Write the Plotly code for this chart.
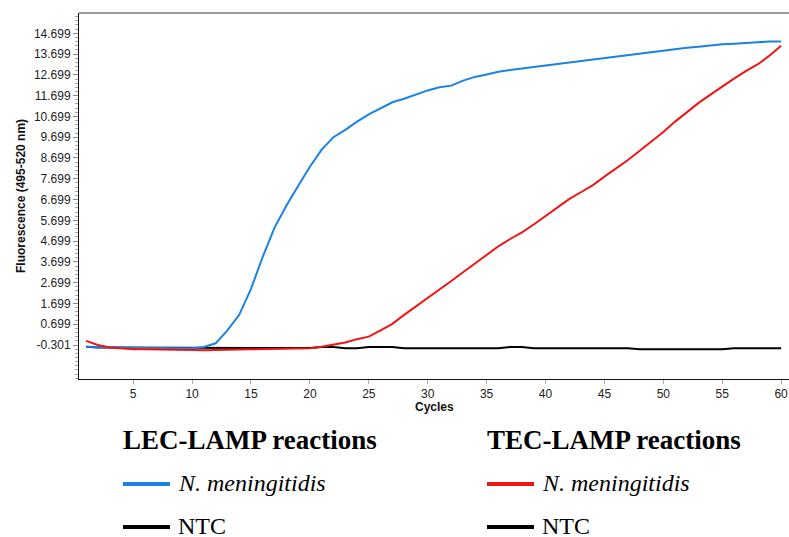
import plotly.graph_objects as go

cycles = list(range(1, 61))

lec_nm = [-0.38, -0.40, -0.42, -0.43, -0.44, -0.45, -0.45, -0.46, -0.46, -0.46,
          -0.40, -0.22, 0.40, 1.15, 2.40, 3.95, 5.35, 6.40, 7.35, 8.28,
          9.10, 9.70, 10.05, 10.45, 10.80, 11.10, 11.38, 11.55, 11.75, 11.95,
          12.10, 12.18, 12.42, 12.60, 12.72, 12.85, 12.93, 13.02, 13.08, 13.15,
          13.22, 13.32, 13.38, 13.45, 13.52, 13.60, 13.65, 13.72, 13.80, 13.88,
          13.92, 14.00, 14.05, 14.12, 14.17, 14.20, 14.22, 14.27, 14.30, 14.30]

tec_nm = [-0.10, -0.30, -0.42, -0.47, -0.50, -0.51, -0.51, -0.52, -0.52, -0.54,
          -0.55, -0.55, -0.54, -0.52, -0.51, -0.50, -0.49, -0.48, -0.47, -0.46,
          -0.38, -0.28, -0.18, -0.02, 0.10, 0.40, 0.72, 1.15, 1.55, 1.95,
          2.35, 2.78, 3.20, 3.63, 4.06, 4.45, 4.80, 5.12, 5.50, 5.92,
          6.30, 6.72, 7.05, 7.38, 7.80, 8.20, 8.60, 9.05, 9.50, 9.95,
          10.45, 10.90, 11.35, 11.75, 12.15, 12.52, 12.88, 13.20, 13.62, 14.10]

ntc = [-0.38, -0.42, -0.42, -0.42, -0.42, -0.42, -0.45, -0.45, -0.45, -0.45,
       -0.45, -0.45, -0.45, -0.45, -0.45, -0.45, -0.45, -0.45, -0.45, -0.45,
       -0.40, -0.40, -0.46, -0.46, -0.40, -0.40, -0.40, -0.46, -0.46, -0.46,
       -0.46, -0.46, -0.46, -0.46, -0.46, -0.46, -0.40, -0.40, -0.46, -0.46,
       -0.46, -0.46, -0.46, -0.46, -0.46, -0.46, -0.46, -0.51, -0.51, -0.51,
       -0.51, -0.51, -0.51, -0.51, -0.51, -0.46, -0.46, -0.46, -0.46, -0.46]

y_tick_labels = ["-0.301", "0.699", "1.699", "2.699", "3.699", "4.699", "5.699",
                 "6.699", "7.699", "8.699", "9.699", "10.699", "11.699",
                 "12.699", "13.699", "14.699"]
y_tick_vals = [float(s) for s in y_tick_labels]
x_tick_vals = [5, 10, 15, 20, 25, 30, 35, 40, 45, 50, 55, 60]

BLUE = "#1a82e2"
RED = "#f01515"
BLACK = "#000000"

W, H = 789, 537
L, R, T, B = 79, 0, 13, 158
PW, PH = W - L - R, H - T - B


def px(x):
    return (x - L) / PW


def py(y):
    return (H - B - y) / PH


fig = go.Figure()
fig.add_trace(go.Scatter(x=cycles, y=ntc, mode="lines",
                         line=dict(color=BLACK, width=2), showlegend=False))
fig.add_trace(go.Scatter(x=cycles, y=lec_nm, mode="lines",
                         line=dict(color=BLUE, width=2), showlegend=False))
fig.add_trace(go.Scatter(x=cycles, y=tec_nm, mode="lines",
                         line=dict(color=RED, width=2), showlegend=False))

fig.update_layout(
    width=W, height=H,
    margin=dict(l=L, r=R, t=T, b=B, pad=0),
    paper_bgcolor="white", plot_bgcolor="white",
    font=dict(family="Liberation Sans, Arial, sans-serif", size=12, color="#222"),
    xaxis=dict(range=[0.4, 60.67], tickmode="array", tickvals=x_tick_vals,
               ticks="outside", ticklen=4, tickcolor="#aaa", showgrid=False,
               zeroline=False, showline=True, linecolor="#111", linewidth=1,
               tickfont=dict(size=12, color="#222")),
    yaxis=dict(range=[-1.937, 15.676], tickmode="array", tickvals=y_tick_vals,
               ticktext=y_tick_labels, ticks="outside", ticklen=5,
               tickcolor="#888", showgrid=False, zeroline=False, showline=True,
               linecolor="#111", linewidth=1,
               tickfont=dict(size=12, color="#222"),
               minor=dict(tickmode="linear", tick0=-0.301, dtick=0.2,
                          ticks="outside", ticklen=3, tickcolor="#aaa",
                          showgrid=False)),
)

# top border
fig.add_shape(type="line", xref="paper", yref="paper", x0=0, x1=1, y0=1, y1=1,
              line=dict(color="#777", width=1.5))

ann = []
ann.append(dict(text="<b>Fluorescence (495-520 nm)</b>", textangle=-90,
                x=px(21), y=0.5, xref="paper", yref="paper",
                xanchor="center", yanchor="middle", showarrow=False,
                font=dict(size=12, color="#111", family="Liberation Sans, Arial")))
ann.append(dict(text="<b>Cycles</b>", x=px(434), y=py(407), xref="paper",
                yref="paper", xanchor="center", yanchor="middle",
                showarrow=False,
                font=dict(size=12, color="#111", family="Liberation Sans, Arial")))

serif = "Liberation Serif, Times New Roman, serif"
groups = [
    (123, "LEC-LAMP reactions", BLUE),
    (487, "TEC-LAMP reactions", RED),
]
for x0, title, col in groups:
    ann.append(dict(text="<b>" + title + "</b>", x=px(x0 - 2), y=py(440),
                    xref="paper", yref="paper", xanchor="left",
                    yanchor="middle", showarrow=False,
                    font=dict(size=27, color="#000", family=serif)))
    for yy, label, c in [(484, "<i>N. meningitidis</i>", col), (527, "NTC", BLACK)]:
        fig.add_shape(type="line", xref="paper", yref="paper",
                      x0=px(x0), x1=px(x0 + 47), y0=py(yy), y1=py(yy),
                      line=dict(color=c, width=4))
        ann.append(dict(text=label, x=px(x0 + 53), y=py(yy - 1), xref="paper",
                        yref="paper", xanchor="left", yanchor="middle",
                        showarrow=False,
                        font=dict(size=24, color="#000", family=serif)))

fig.update_layout(annotations=ann)
fig.write_html("out.html", config={"displayModeBar": False},
               post_script="document.body.style.margin='0';"
                           "document.body.style.overflow='hidden';")
